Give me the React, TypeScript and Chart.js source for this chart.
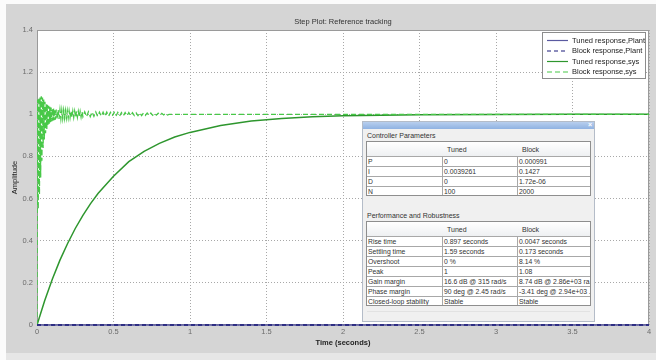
import React, { useEffect, useRef } from "react";
import { Chart, registerables } from "chart.js";
Chart.register(...registerables);

// ---------- data ----------
const chartTitle = "Step Plot: Reference tracking";
const xAxisTitle = "Time (seconds)";
const yAxisTitle = "Amplitude";
const xTicks = [0, 0.5, 1, 1.5, 2, 2.5, 3, 3.5, 4];
const yTicks = [0, 0.2, 0.4, 0.6, 0.8, 1, 1.2, 1.4];
const seriesNames = [
  "Tuned response,Plant",
  "Block response,Plant",
  "Tuned response,sys",
  "Block response,sys",
];

const plantTime = [0, 4];
const tunedPlantValues = [0, 0];
const blockPlantValues = [0, 0];

const tunedSysTime = [
  0, 0.05, 0.1, 0.15, 0.2, 0.25, 0.3, 0.35, 0.4, 0.5, 0.6, 0.7, 0.8, 0.9, 1.0,
  1.2, 1.4, 1.6, 1.8, 2.0, 2.5, 3.0, 3.5, 4.0,
];
const tunedSysValues = [
  0, 0.115, 0.217, 0.308, 0.387, 0.458, 0.52, 0.576, 0.625, 0.706, 0.775,
  0.824, 0.862, 0.892, 0.914, 0.947, 0.968, 0.98, 0.988, 0.993, 0.998, 0.9995,
  1.0, 1.0,
];

const blockSysTime = [
  0, 0.002, 0.004, 0.008, 0.012, 0.016, 0.02, 0.024, 0.028, 0.032, 0.036, 0.04,
  0.044, 0.048, 0.052, 0.056, 0.06, 0.064, 0.068, 0.072, 0.076, 0.08, 0.084,
  0.088, 0.092, 0.096, 0.1, 0.104, 0.108, 0.112, 0.116, 0.12, 0.126, 0.132,
  0.138, 0.144, 0.15, 0.156, 0.162, 0.168, 0.174, 0.18, 0.186, 0.192, 0.198,
  0.204, 0.21, 0.216, 0.222, 0.228, 0.234, 0.24, 0.246, 0.252, 0.258, 0.264,
  0.27, 0.276, 0.282, 0.288, 0.294, 0.3, 0.312, 0.324, 0.336, 0.348, 0.36,
  0.372, 0.384, 0.396, 0.408, 0.42, 0.432, 0.444, 0.456, 0.468, 0.48, 0.492,
  0.504, 0.516, 0.528, 0.54, 0.552, 0.564, 0.576, 0.588, 0.6, 0.612, 0.624,
  0.636, 0.648, 0.66, 0.672, 0.684, 0.696, 0.708, 0.72, 0.732, 0.744, 0.756,
  0.768, 0.78, 0.792, 0.804, 0.816, 0.828, 0.84, 0.852, 0.864, 4.0,
];
const blockSysValues = [
  0, 0.62, 1.07, 0.55, 1.08, 0.62, 1.08, 0.7, 1.085, 0.78, 1.08, 0.84, 1.07,
  0.88, 1.06, 0.91, 1.05, 0.93, 1.045, 0.945, 1.04, 0.955, 1.036, 0.962, 1.032,
  0.966, 1.03, 0.969, 1.027, 0.972, 1.025, 0.974, 1.023, 0.976, 1.022, 0.978,
  1.021, 0.979, 1.02, 0.98, 1.019, 0.981, 1.018, 0.982, 1.017, 0.983, 1.016,
  0.984, 1.016, 0.985, 1.015, 0.985, 1.015, 0.986, 1.014, 0.986, 1.014, 0.987,
  1.013, 0.987, 1.013, 0.988, 1.012, 0.989, 1.012, 0.989, 1.011, 0.99, 1.011,
  0.99, 1.01, 0.991, 1.01, 0.991, 1.01, 0.991, 1.009, 0.992, 1.009, 0.992,
  1.009, 0.992, 1.008, 0.993, 1.008, 0.993, 1.008, 0.993, 1.007, 0.994, 1.007,
  0.994, 1.007, 0.994, 1.006, 0.995, 1.006, 0.995, 1.006, 0.995, 1.005, 0.996,
  1.005, 0.996, 1.004, 0.997, 1.004, 0.997, 1.0, 1.0,
];

const paramTitle = "Controller Parameters";
const perfTitle = "Performance and Robustness";
const tableHeader = ["", "Tuned", "Block"];
const paramRows = [
  ["P", "0", "0.000991"],
  ["I", "0.0039261", "0.1427"],
  ["D", "0", "1.72e-06"],
  ["N", "100", "2000"],
];
const perfRows = [
  ["Rise time", "0.897 seconds", "0.0047 seconds"],
  ["Settling time", "1.59 seconds", "0.173 seconds"],
  ["Overshoot", "0 %", "8.14 %"],
  ["Peak", "1", "1.08"],
  ["Gain margin", "16.6 dB @ 315 rad/s", "8.74 dB @ 2.86e+03 ra..."],
  ["Phase margin", "90 deg @ 2.45 rad/s", "-3.41 deg @ 2.94e+03 ..."],
  ["Closed-loop stability", "Stable", "Stable"],
];

// ---------- styles ----------
const FONT = "'Liberation Sans', Arial, sans-serif";
const W = 656;
const H = 360;

const toPts = (xs: number[], ys: number[]) => xs.map((x, i) => ({ x, y: ys[i] }));

const pagePlugin = {
  id: "pageBg",
  beforeDraw(chart: any) {
    const { ctx, chartArea: a } = chart;
    ctx.save();
    ctx.fillStyle = "#d5d5d5";
    ctx.fillRect(0, 0, W, H);
    ctx.fillStyle = "#fbfbfb";
    ctx.fillRect(0, 0, W, 4);
    ctx.fillRect(0, 0, 6, H);
    ctx.fillStyle = "#e6e6e6";
    ctx.fillRect(6, 353, W - 6, H - 353);
    ctx.fillStyle = "#ffffff";
    ctx.fillRect(a.left, a.top, a.right - a.left, a.bottom - a.top);
    ctx.restore();
  },
  beforeDatasetsDraw(chart: any) {
    const { ctx, chartArea: a } = chart;
    ctx.save();
    ctx.strokeStyle = "#9a9a9a";
    ctx.lineWidth = 1;
    ctx.strokeRect(a.left + 0.5, a.top + 0.5, a.right - a.left - 1, a.bottom - a.top - 1);
    ctx.restore();
  },
  afterDraw(chart: any) {
    const { ctx, chartArea: a } = chart;
    ctx.save();
    ctx.fillStyle = "#333";
    ctx.font = `7.5px ${FONT}`;
    ctx.textAlign = "center";
    ctx.textBaseline = "middle";
    ctx.fillText(chartTitle, (a.left + a.right) / 2, 22);
    ctx.fillStyle = "#222";
    ctx.font = `bold 7.5px ${FONT}`;
    ctx.fillText(xAxisTitle, (a.left + a.right) / 2, 343);
    ctx.save();
    ctx.translate(15, (a.top + a.bottom) / 2);
    ctx.rotate(-Math.PI / 2);
    ctx.font = `7.5px ${FONT}`;
    ctx.fillText(yAxisTitle, 0, 0);
    ctx.restore();

    // legend
    const bx = 542, by = 32, bw = 103, bh = 46;
    ctx.fillStyle = "#fff";
    ctx.fillRect(bx, by, bw, bh);
    ctx.strokeStyle = "#8c8c8c";
    ctx.lineWidth = 1;
    ctx.strokeRect(bx + 0.5, by + 0.5, bw, bh);
    chart.data.datasets.forEach((ds: any, i: number) => {
      const y = 40.5 + i * 10.5;
      ctx.strokeStyle = ds.borderColor;
      ctx.lineWidth = 1.2;
      ctx.setLineDash(ds.borderDash || []);
      ctx.beginPath();
      ctx.moveTo(547, y);
      ctx.lineTo(568, y);
      ctx.stroke();
      ctx.setLineDash([]);
      ctx.fillStyle = "#222";
      ctx.font = `7.5px ${FONT}`;
      ctx.textAlign = "left";
      ctx.fillText(ds.label, 572, y);
    });
    ctx.restore();
  },
};

function DataTable({ top, rows }: { top: number; rows: string[][] }) {
  const colW = [76, 75, 74];
  const colX = [0, 76, 151];
  const headH = 15;
  const rowH = 10;
  const totalH = headH + rows.length * rowH;
  return (
    <div
      style={{
        position: "absolute",
        left: 366,
        top,
        width: 225,
        height: totalH,
        border: "1px solid #8e8e8e",
        background: "#fff",
        boxSizing: "border-box",
        overflow: "hidden",
      }}
    >
      <div
        style={{
          position: "absolute",
          left: 0,
          top: 0,
          width: 225,
          height: headH - 1,
          background: "linear-gradient(#ffffff, #eef0f2)",
          borderBottom: "1px solid #c8c8c8",
        }}
      />
      {tableHeader.map((h, c) => (
        <div
          key={"h" + c}
          style={{
            position: "absolute",
            left: colX[c] + 4,
            top: 0,
            height: headH,
            lineHeight: headH + "px",
            fontSize: 7,
            color: "#333",
            whiteSpace: "nowrap",
          }}
        >
          {h}
        </div>
      ))}
      {rows.map((r, ri) => (
        <React.Fragment key={"r" + ri}>
          {r.map((cell, c) => (
            <div
              key={c}
              style={{
                position: "absolute",
                left: colX[c],
                top: headH - 1 + ri * rowH,
                width: colW[c],
                height: rowH,
                boxSizing: "border-box",
                borderTop: "1px solid #a8a8a8",
                borderRight: c < 2 ? "1px solid #a8a8a8" : "none",
                paddingLeft: 1,
                lineHeight: rowH - 1 + "px",
                fontSize: 6.8,
                color: "#333",
                whiteSpace: "nowrap",
                overflow: "hidden",
              }}
            >
              {cell}
            </div>
          ))}
        </React.Fragment>
      ))}
    </div>
  );
}

function FloatWindow() {
  return (
    <>
      <div
        style={{
          position: "absolute",
          left: 362,
          top: 121,
          width: 233,
          height: 201,
          background: "#f0f0f0",
          border: "1px solid #b4bcc8",
          boxSizing: "border-box",
          fontFamily: FONT,
        }}
      >
        <div
          style={{
            position: "absolute",
            left: 0,
            top: 0,
            right: 0,
            height: 7,
            background: "linear-gradient(#b8cfee, #8fb2e2)",
          }}
        />
        <div
          style={{
            position: "absolute",
            right: 2,
            top: -1,
            fontSize: 7,
            lineHeight: "8px",
            color: "#fff",
            fontWeight: "bold",
          }}
        >
          ×
        </div>
        <div
          style={{
            position: "absolute",
            left: 4,
            top: 189,
            right: 4,
            height: 0,
            borderTop: "1px solid #e2e2e2",
          }}
        />
      </div>
      <div
        style={{
          position: "absolute",
          left: 367,
          top: 131,
          fontSize: 7,
          lineHeight: "10px",
          color: "#333",
          fontFamily: FONT,
          whiteSpace: "nowrap",
        }}
      >
        {paramTitle}
      </div>
      <div style={{ fontFamily: FONT }}>
        <DataTable top={141} rows={paramRows} />
      </div>
      <div
        style={{
          position: "absolute",
          left: 367,
          top: 211,
          fontSize: 7,
          lineHeight: "10px",
          color: "#333",
          fontFamily: FONT,
          whiteSpace: "nowrap",
        }}
      >
        {perfTitle}
      </div>
      <div style={{ fontFamily: FONT }}>
        <DataTable top={221} rows={perfRows} />
      </div>
    </>
  );
}

export default function App() {
  const ref = useRef<HTMLCanvasElement | null>(null);
  useEffect(() => {
    if (!ref.current) return;
    const tickFont = { family: FONT, size: 7.5 };
    const chart = new Chart(ref.current, {
      type: "line",
      data: {
        datasets: [
          {
            label: seriesNames[0],
            data: toPts(plantTime, tunedPlantValues),
            borderColor: "#5a5aa0",
            borderWidth: 1.5,
            pointRadius: 0,
            clip: false,
            order: 1,
          },
          {
            label: seriesNames[1],
            data: toPts(plantTime, blockPlantValues),
            borderColor: "#1a1a7a",
            borderWidth: 1.6,
            borderDash: [4, 3],
            pointRadius: 0,
            clip: false,
            order: 0,
          },
          {
            label: seriesNames[2],
            data: toPts(tunedSysTime, tunedSysValues),
            borderColor: "#2e962e",
            borderWidth: 1.5,
            pointRadius: 0,
            order: 3,
          },
          {
            label: seriesNames[3],
            data: toPts(blockSysTime, blockSysValues),
            borderColor: "#48c848",
            borderWidth: 1.3,
            borderDash: [5, 3],
            pointRadius: 0,
            order: 2,
          },
        ],
      },
      options: {
        animation: false,
        responsive: false,
        events: [],
        layout: { padding: { left: 0, right: 7, top: 30, bottom: 0 } },
        plugins: { legend: { display: false }, title: { display: false }, tooltip: { enabled: false } },
        scales: {
          x: {
            type: "linear",
            min: 0,
            max: 4,
            afterBuildTicks: (s: any) => {
              s.ticks = xTicks.map((v) => ({ value: v }));
            },
            afterFit: (s: any) => {
              s.height = 35;
            },
            ticks: {
              autoSkip: false,
              maxRotation: 0,
              padding: 2,
              color: "#6c6c6c",
              font: tickFont,
              callback: (v: any) => String(v),
            },
            grid: { color: "#a8a8a8", lineWidth: 1, drawTicks: false },
            border: { display: false, dash: [1, 2] },
          },
          y: {
            type: "linear",
            min: 0,
            max: 1.4,
            afterBuildTicks: (s: any) => {
              s.ticks = yTicks.map((v) => ({ value: v }));
            },
            afterFit: (s: any) => {
              s.width = 37;
            },
            ticks: {
              autoSkip: false,
              padding: 4,
              color: "#6c6c6c",
              font: tickFont,
              callback: (v: any) => String(v),
            },
            grid: { color: "#a8a8a8", lineWidth: 1, drawTicks: false },
            border: { display: false, dash: [1, 2] },
          },
        },
      },
      plugins: [pagePlugin],
    } as any);
    return () => chart.destroy();
  }, []);

  return (
    <div style={{ position: "fixed", left: 0, top: 0, width: W, height: H, overflow: "hidden" }}>
      <canvas ref={ref} width={W} height={H} style={{ display: "block", width: W, height: H }} />
      <FloatWindow />
    </div>
  );
}
